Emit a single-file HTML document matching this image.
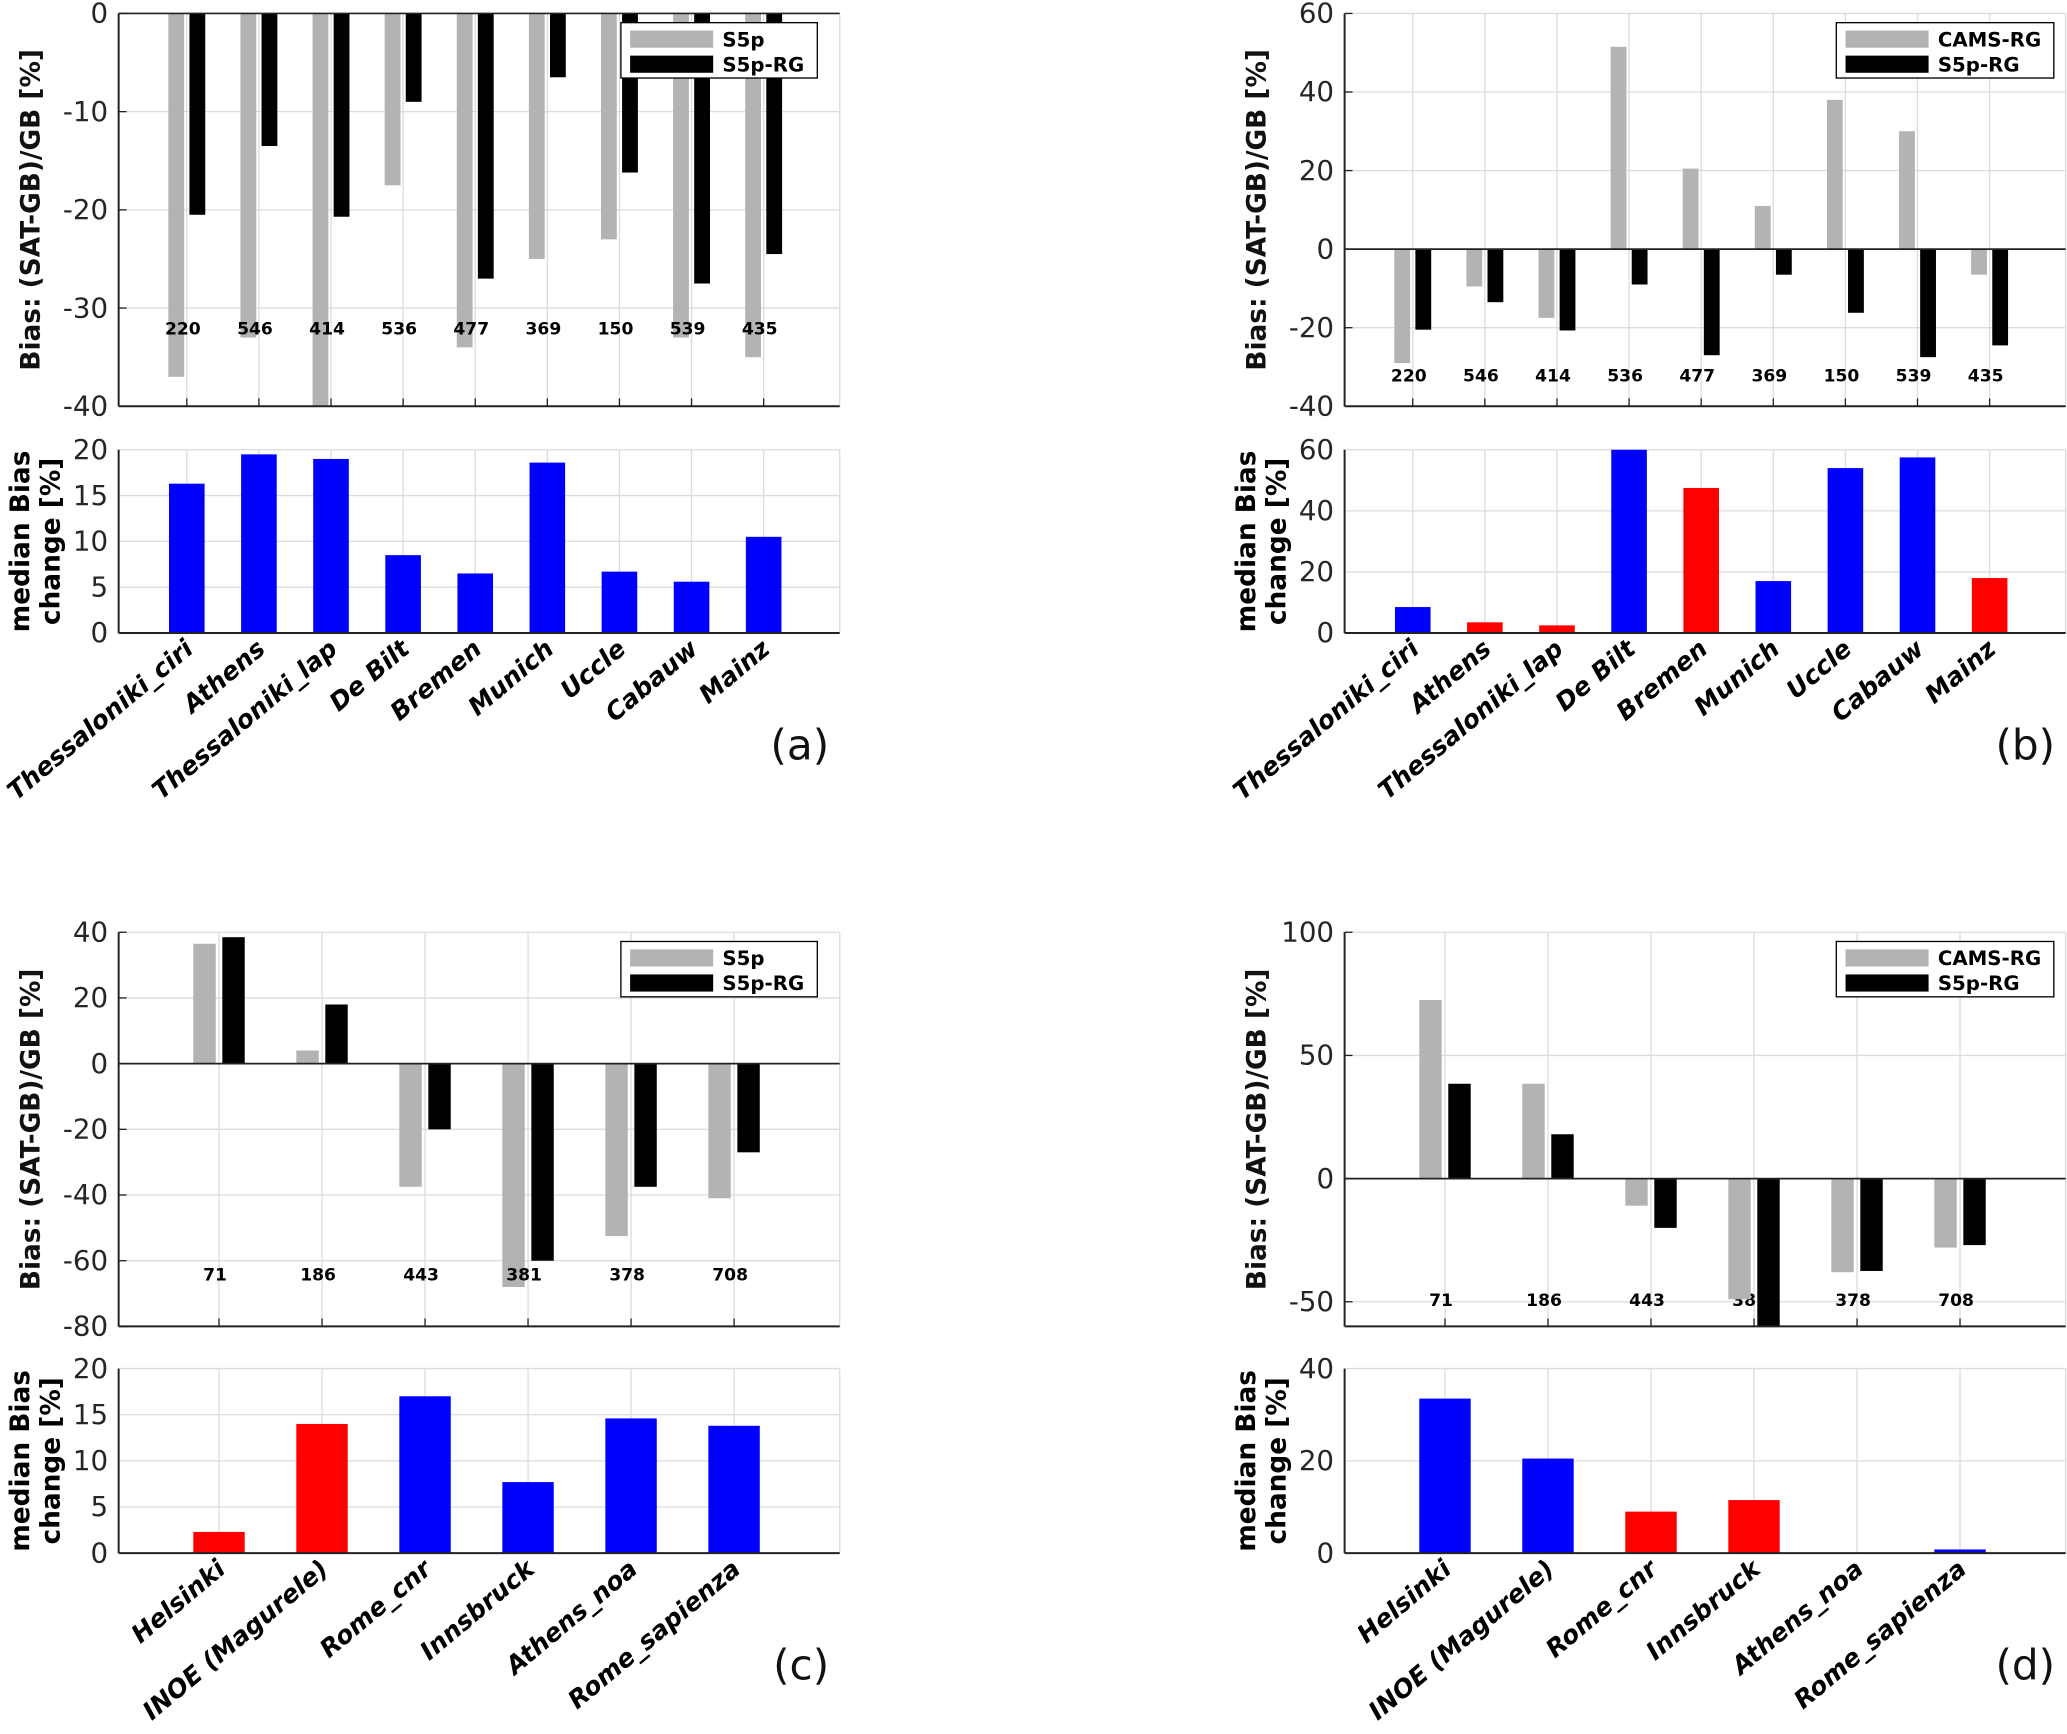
<!DOCTYPE html>
<html><head><meta charset="utf-8"><style>
html,body{margin:0;padding:0;background:#fff;}
svg{display:block;}
text{font-family:"DejaVu Sans","Liberation Sans",sans-serif;}
</style></head><body>
<svg id="fig" width="2067" height="1734" viewBox="0 0 1568 1315" xmlns="http://www.w3.org/2000/svg"></svg>
<script>
const catsTop = ["Thessaloniki_ciri","Athens","Thessaloniki_lap","De Bilt","Bremen","Munich","Uccle","Cabauw","Mainz"];
const catsBot = ["Helsinki","INOE (Magurele)","Rome_cnr","Innsbruck","Athens_noa","Rome_sapienza"];
const countsTop = ["220","546","414","536","477","369","150","539","435"];
const countsBot = ["71","186","443","381","378","708"];
const aS5p = [-37,-33,-40,-17.5,-34,-25,-23,-33,-35];
const aS5pRG = [-20.5,-13.5,-20.7,-9,-27,-6.5,-16.2,-27.5,-24.5];
const aChange = [16.3,19.5,19,8.5,6.5,18.6,6.7,5.6,10.5];
const aColor = ["b","b","b","b","b","b","b","b","b"];
const bCams = [-29,-9.5,-17.5,51.5,20.5,11,38,30,-6.5];
const bS5pRG = [-20.5,-13.5,-20.7,-9,-27,-6.5,-16.2,-27.5,-24.5];
const bChange = [8.5,3.5,2.5,60,47.5,17,54,57.5,18];
const bColor = ["b","r","r","b","r","b","b","b","r"];
const cS5p = [36.5,4,-37.5,-68,-52.5,-41];
const cS5pRG = [38.5,18,-20,-60,-37.5,-27];
const cChange = [2.3,14,17,7.7,14.6,13.8];
const cColor = ["r","r","b","b","b","b"];
const dCams = [72.5,38.5,-11,-49,-38,-28];
const dS5pRG = [38.5,18,-20,-60,-37.5,-27];
const dChange = [33.5,20.5,9,11.5,0,0.8];
const dColor = ["b","b","r","r","b","b"];
const aTicks=[0,-10,-20,-30,-40], bTicks=[60,40,20,0,-20,-40], cTicks=[40,20,0,-20,-40,-60,-80], dTicks=[100,50,0,-50];
const aTicks2=[0,5,10,15,20], bTicks2=[0,20,40,60], cTicks2=[0,5,10,15,20], dTicks2=[0,20,40];

const svg=document.getElementById('fig');
const NS="http://www.w3.org/2000/svg";
function el(tag,attrs,parent,txt){const e=document.createElementNS(NS,tag);for(const k in attrs)e.setAttribute(k,attrs[k]);if(txt!==undefined)e.textContent=txt;(parent||svg).appendChild(e);return e;}

function panel(o){
  const g=el('g',{});
  
  
  const n=o.cats.length;
  const slot=(o.x1-o.x0)/(n+1);
  const cx=i=>o.x0+o.off+slot*(i+1);
  const ty=v=>o.ty0+(o.tmax-v)/(o.tmax-o.tmin)*(o.ty1-o.ty0);
  o.tTicks.forEach(t=>{
    el('line',{x1:o.x0,x2:o.x1,y1:ty(t),y2:ty(t),stroke:'#dcdcdc','stroke-width':1},g);
    const tl=el('text',{x:o.x0-8,y:ty(t)+7,'font-size':21,'text-anchor':'end',fill:'#262626'},g,String(t));
    
    
  });
  for(let i=0;i<n;i++) el('line',{x1:cx(i),x2:cx(i),y1:o.ty0,y2:o.ty1,stroke:'#dcdcdc','stroke-width':1},g);
  el('line',{x1:o.x1,x2:o.x1,y1:o.ty0,y2:o.ty1,stroke:'#dcdcdc'},g);
  const drawCounts=()=>{for(let i=0;i<n;i++){const t=el('text',{x:cx(i)-3,y:ty(o.countAt)+5,'font-size':13,'font-weight':'bold','text-anchor':'middle',fill:'#000'},g,o.counts[i]);
    
    }};
  if(o.countsFirst) drawCounts();
  for(let i=0;i<n;i++){
    const y0=ty(0);
    let v=o.s1[i], y=ty(Math.max(o.tmin,Math.min(o.tmax,v)));
    const r1=el('rect',{x:cx(i)-o.bw-o.gap/2,y:Math.min(y,y0),width:o.bw,height:Math.abs(y-y0),fill:'#b3b3b3'},g);
    
    
    v=o.s2[i]; y=ty(Math.max(o.tmin,Math.min(o.tmax,v)));
    const r2=el('rect',{x:cx(i)+o.gap/2,y:Math.min(y,y0),width:o.bw,height:Math.abs(y-y0),fill:'#000'},g);
    
    
  }
  if(!o.countsFirst) drawCounts();
  el('line',{x1:o.x0,x2:o.x1,y1:ty(0),y2:ty(0),stroke:'#222','stroke-width':1.3},g);
  el('line',{x1:o.x0,x2:o.x0,y1:o.ty0,y2:o.ty1,stroke:'#222','stroke-width':1.5},g);
  el('line',{x1:o.x0,x2:o.x1,y1:o.ty1,y2:o.ty1,stroke:'#222','stroke-width':1.5},g);
  o.tTicks.forEach(t=>el('line',{x1:o.x0,x2:o.x0+6,y1:ty(t),y2:ty(t),stroke:'#222'},g));
  for(let i=0;i<n;i++) el('line',{x1:cx(i),x2:cx(i),y1:o.ty1,y2:o.ty1-6,stroke:'#222'},g);
  const yl=el('text',{x:0,y:0,'font-size':20,'font-weight':'bold','text-anchor':'middle',transform:`translate(${o.x0-60},${(o.ty0+o.ty1)/2}) rotate(-90)`,fill:'#111'},g,'Bias: (SAT-GB)/GB [%]');
  
  
  const lg=el('g',{},g);
  
  
  el('rect',{x:o.lx,y:o.ty0+7,width:o.lw,height:42,fill:'#fff',stroke:'#000','stroke-width':1},lg);
  el('rect',{x:o.lx+7,y:o.ty0+13,width:63,height:13,fill:'#b3b3b3'},lg);
  el('rect',{x:o.lx+7,y:o.ty0+32,width:63,height:13,fill:'#000'},lg);
  el('text',{x:o.lx+77,y:o.ty0+25,'font-size':15,'font-weight':'bold'},lg,o.l1);
  el('text',{x:o.lx+77,y:o.ty0+44,'font-size':15,'font-weight':'bold'},lg,'S5p-RG');
  const by=v=>o.by1-(v/o.bmax)*(o.by1-o.by0);
  o.bTicks.forEach(t=>{
    el('line',{x1:o.x0,x2:o.x1,y1:by(t),y2:by(t),stroke:'#dcdcdc'},g);
    const tl=el('text',{x:o.x0-8,y:by(t)+7,'font-size':21,'text-anchor':'end',fill:'#262626'},g,String(t));
    
    
  });
  for(let i=0;i<n;i++) el('line',{x1:cx(i),x2:cx(i),y1:o.by0,y2:o.by1,stroke:'#dcdcdc'},g);
  el('line',{x1:o.x1,x2:o.x1,y1:o.by0,y2:o.by1,stroke:'#dcdcdc'},g);
  for(let i=0;i<n;i++){
    const y=by(o.ch[i]);
    const r=el('rect',{x:cx(i)-o.cbw/2,y:y,width:o.cbw,height:o.by1-y,fill:o.col[i]==='r'?'#ff0000':'#0000ff'},g);
    
    
  }
  el('line',{x1:o.x0,x2:o.x0,y1:o.by0,y2:o.by1,stroke:'#222','stroke-width':1.5},g);
  el('line',{x1:o.x0,x2:o.x1,y1:o.by1,y2:o.by1,stroke:'#222','stroke-width':1.5},g);
  const y2a=el('text',{x:0,y:0,'font-size':20,'font-weight':'bold','text-anchor':'middle',transform:`translate(${o.x0-68},${(o.by0+o.by1)/2}) rotate(-90)`},g,'median Bias');
  
  
  el('text',{x:0,y:0,'font-size':20,'font-weight':'bold','text-anchor':'middle',transform:`translate(${o.x0-45},${(o.by0+o.by1)/2}) rotate(-90)`},g,'change [%]');
  for(let i=0;i<n;i++){
    const t=el('text',{x:0,y:0,'font-size':19,'font-weight':'bold','font-style':'italic','text-anchor':'end',transform:`translate(${cx(i)+6},${o.by1+14}) rotate(-40)`},g,o.cats[i]);
    
    
  }
  const pl=el('text',{x:o.x1-8,y:o.by1+96,'font-size':32,'text-anchor':'end',fill:'#111'},g,o.letter);
  
  
}
panel({name:'panel-a',x0:90,x1:637,off:-3,ty0:10,ty1:308,tmax:0,tmin:-40,tTicks:aTicks,s1:aS5p,s2:aS5pRG,counts:countsTop,countAt:-32,cats:catsTop,bw:12,gap:4,
  lx:471,lw:149,l1:'S5p',by0:341,by1:480,bmax:20,bTicks:aTicks2,ch:aChange,col:aColor,cbw:27,letter:'(a)'});
panel({name:'panel-b',x0:1020,x1:1567,off:-3,ty0:10,ty1:308,tmax:60,tmin:-40,tTicks:bTicks,s1:bCams,s2:bS5pRG,counts:countsTop,countAt:-32,cats:catsTop,bw:12,gap:4,
  lx:1393,lw:165,l1:'CAMS-RG',by0:341,by1:480,bmax:60,bTicks:bTicks2,ch:bChange,col:bColor,cbw:27,letter:'(b)'});
panel({name:'panel-c',x0:90,x1:637,off:-2,ty0:707,ty1:1006,tmax:40,tmin:-80,tTicks:cTicks,s1:cS5p,s2:cS5pRG,counts:countsBot,countAt:-64,cats:catsBot,bw:17,gap:5,
  lx:471,lw:149,l1:'S5p',by0:1038,by1:1178,bmax:20,bTicks:cTicks2,ch:cChange,col:cColor,cbw:39,letter:'(c)'});
panel({name:'panel-d',x0:1020,x1:1567,off:-2,ty0:707,ty1:1006,tmax:100,tmin:-60,tTicks:dTicks,s1:dCams,s2:dS5pRG,counts:countsBot,countAt:-49,countsFirst:true,cats:catsBot,bw:17,gap:5,
  lx:1393,lw:165,l1:'CAMS-RG',by0:1038,by1:1178,bmax:40,bTicks:dTicks2,ch:dChange,col:dColor,cbw:39,letter:'(d)'});
</script>
</body></html>
